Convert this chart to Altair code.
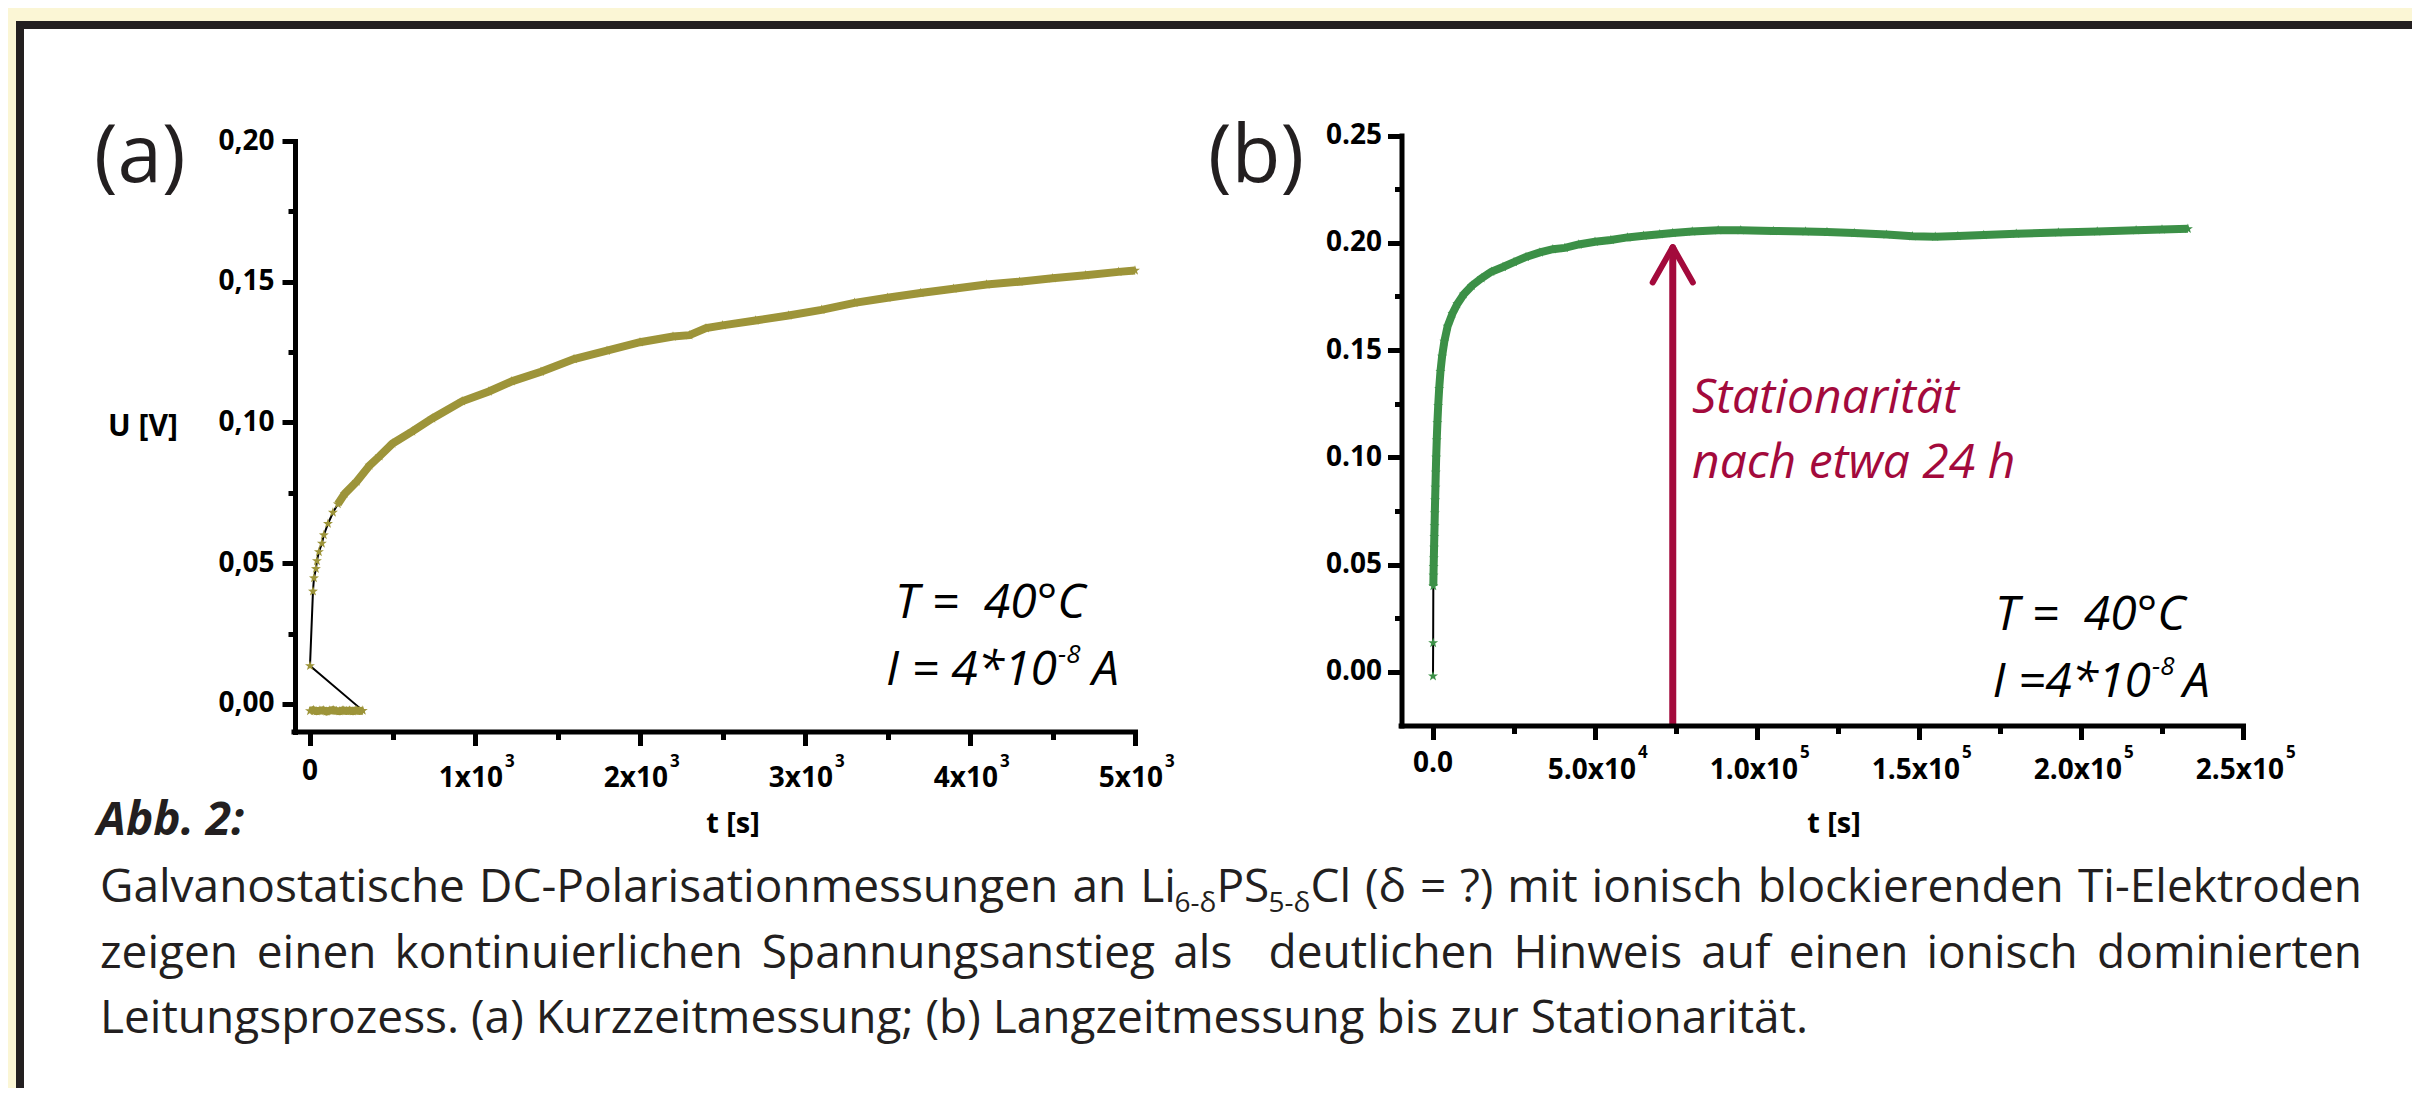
import altair as alt
import pandas as pd

# ---------------- values ----------------
# (a) Kurzzeitmessung: baseline points before the current step, then the rise
a_base_t = [0, 20, 40, 60, 80, 100, 120, 140, 160, 180, 200, 220, 240, 260, 280, 300, 320]
a_base_u = [-0.0025, -0.0022, -0.0026, -0.0024, -0.0023, -0.0027, -0.0024, -0.0022, -0.0025,
            -0.0026, -0.0023, -0.0025, -0.0024, -0.0026, -0.0023, -0.0025, -0.0024]
a_t = [0, 18, 24, 36, 42, 54, 72, 84, 109, 139, 169, 211, 283, 361, 422, 500, 620, 741, 922,
       1084, 1223, 1400, 1600, 1800, 2000, 2200, 2300, 2400, 2500, 2700, 2900, 3100, 3300,
       3500, 3700, 3900, 4100, 4300, 4500, 4700, 4900, 5000]
a_u = [0.0135, 0.040, 0.0447, 0.048, 0.0508, 0.054, 0.057, 0.060, 0.064, 0.068, 0.071, 0.0747,
       0.079, 0.0847, 0.088, 0.0925, 0.0968, 0.1014, 0.1075, 0.111, 0.1146, 0.118, 0.1225,
       0.1255, 0.1285, 0.1305, 0.131, 0.1335, 0.1345, 0.1362, 0.138, 0.140, 0.1425, 0.1443,
       0.146, 0.1475, 0.149, 0.150, 0.1512, 0.1523, 0.1535, 0.154]

# (b) Langzeitmessung
b_t = [0, 50, 100, 150, 200, 260, 330, 400, 480, 560, 650, 750, 860, 980, 1150, 1350, 1600,
       1900, 2300, 2800, 3500, 4500, 6000, 7500, 9500, 12000, 15000, 18000, 21600, 25000,
       28700, 33000, 37000, 40700, 45000, 50000, 54900, 60000, 65000, 70000, 74000, 80000,
       88000, 95000, 105000, 115000, 121600, 130000, 140000, 148000, 155000, 162000, 170000,
       180000, 193000, 205000, 217000, 225000, 233000]
b_u = [-0.002, 0.0135, 0.040, 0.045, 0.049, 0.053, 0.058, 0.063, 0.068, 0.074, 0.080, 0.086,
       0.093, 0.100, 0.108, 0.116, 0.124, 0.132, 0.140, 0.147, 0.154, 0.161, 0.167, 0.1715,
       0.176, 0.180, 0.1835, 0.1865, 0.1887, 0.191, 0.1934, 0.1955, 0.197, 0.1976, 0.1992,
       0.2005, 0.2013, 0.2025, 0.2033, 0.2040, 0.2046, 0.2052, 0.2058, 0.2058, 0.2055,
       0.2052, 0.2050, 0.2045, 0.2038, 0.2030, 0.2028, 0.2032, 0.2036, 0.2042, 0.2048,
       0.2053, 0.2058, 0.2062, 0.2065]

# tick labels
xa_ticks = [0, 1000, 2000, 3000, 4000, 5000]
xa_mant = ["0", "1x10", "2x10", "3x10", "4x10", "5x10"]
xa_exp = ["", "3", "3", "3", "3", "3"]
xb_ticks = [0, 50000, 100000, 150000, 200000, 250000]
xb_mant = ["0.0", "5.0x10", "1.0x10", "1.5x10", "2.0x10", "2.5x10"]
xb_exp = ["", "4", "5", "5", "5", "5"]
ya_ticks = [0, 0.025, 0.05, 0.075, 0.1, 0.125, 0.15, 0.175, 0.2]
yb_ticks = [0, 0.025, 0.05, 0.075, 0.1, 0.125, 0.15, 0.175, 0.2, 0.225, 0.25]
xa_tick_vals = [0, 500, 1000, 1500, 2000, 2500, 3000, 3500, 4000, 4500, 5000]
xb_tick_vals = [0, 25000, 50000, 75000, 100000, 125000, 150000, 175000, 200000, 225000, 250000]

# annotation arrow in (b)
arrow_t = [74000]
arrow_from = [-0.025]
arrow_tip = [0.198]
head_t = [67800, 80200]
head_u = [0.1815, 0.1815]

# caption (words; "_" marks a subscript piece)
cap_line1 = [["Galvanostatische"], ["DC-Polarisationmessungen"], ["an"],
             ["Li", "_6-δ", "PS", "_5-δ", "Cl"], ["(δ"], ["="], ["?)"], ["mit"], ["ionisch"],
             ["blockierenden"], ["Ti-Elektroden"]]
cap_line2 = [["zeigen"], ["einen"], ["kontinuierlichen"], ["Spannungsanstieg"], ["als"],
             ["deutlichen"], ["Hinweis"], ["auf"], ["einen"], ["ionisch"], ["dominierten"]]
cap_line2_gapweights = [1, 1, 1, 1, 2, 1, 1, 1, 1, 1]
cap_line3 = "Leitungsprozess. (a) Kurzzeitmessung;  (b) Langzeitmessung bis zur Stationarität."

# ---------------- style / layout ----------------
W, H = 2404, 1080


def px(v):
    return v - 8  # page pixel -> chart pixel


FONT = "Open Sans"
INK = "#231F20"
OLIVE = "#9D9439"
GREEN = "#3C9047"
CRIMSON = "#A30A3C"
CREAM = "#FBF6D5"
STAR = ("M0,-1L0.235,-0.324L0.951,-0.309L0.38,0.124L0.588,0.809L0,0.4L-0.588,0.809"
        "L-0.38,0.124L-0.951,-0.309L-0.235,-0.324Z")

# approximate Open Sans advance widths (em) used to justify the caption lines
ADV = {' ': .26, 'a': .556, 'b': .613, 'c': .495, 'd': .613, 'e': .561, 'f': .339, 'g': .548,
       'h': .614, 'i': .253, 'k': .525, 'l': .253, 'm': .93, 'n': .614, 'o': .604, 'p': .613,
       'r': .408, 's': .477, 't': .353, 'u': .614, 'v': .501, 'w': .778, 'z': .478, 'ä': .556,
       'A': .633, 'C': .633, 'D': .722, 'E': .556, 'G': .719, 'H': .751, 'I': .279, 'K': .59,
       'L': .496, 'P': .596, 'S': .539, 'T': .54, '-': .322, '.': .267, ';': .267, ':': .267,
       '(': .296, ')': .296, '=': .571, '?': .429, 'δ': .6}


def adv(s):
    return sum(ADV.get(c, .571) for c in s)


dummy = pd.DataFrame({"k": [0]})


def txt(s, x, y, size, weight="normal", style="normal", color=INK, align="left"):
    return alt.Chart(dummy).mark_text(
        text=s, font=FONT, fontSize=size, fontWeight=weight, fontStyle=style,
        color=color, align=align, baseline="alphabetic"
    ).encode(x=alt.value(px(x)), y=alt.value(px(y)))


def justified(words, x0, x1, y, size, weights=None, sub_scale=0.6, sub_dy=10):
    sub_size = round(size * sub_scale)

    def piece_w(p):
        return adv(p[1:]) * sub_size if p.startswith("_") else adv(p) * size

    widths = [sum(piece_w(p) for p in w) for w in words]
    if weights is None:
        weights = [1] * (len(words) - 1)
    gap = (x1 - x0 - sum(widths)) / sum(weights)
    out = []
    x = x0
    for i, w in enumerate(words):
        if i == len(words) - 1 and len(w) == 1:
            out.append(txt(w[0], x1, y, size, align="right"))
            break
        xp = x
        for p in w:
            if p.startswith("_"):
                out.append(txt(p[1:], xp, y + sub_dy, sub_size))
            else:
                out.append(txt(p, xp, y, size))
            xp += piece_w(p)
        if i < len(words) - 1:
            x += widths[i] + gap * weights[i]
    return out


def axis_common(**kw):
    base = dict(title=None, grid=False, domainColor="black", domainWidth=5, domainCap="square",
                tickColor="black", tickWidth=5, labelOverlap=False, labelFlush=False, zindex=2)
    base.update(kw)
    return alt.Axis(**base)


# ---------------- scales & axes ----------------
sc_xa = alt.Scale(domain=[-100, 5000], range=[px(293.5), px(1135)], nice=False, zero=False)
sc_ya = alt.Scale(domain=[-0.01, 0.2], range=[px(732), px(141)], nice=False, zero=False)
sc_xb = alt.Scale(domain=[-10000, 250000], range=[px(1400.6), px(2243)], nice=False, zero=False)
sc_yb = alt.Scale(domain=[-0.025, 0.25], range=[px(725.5), px(135.5)], nice=False, zero=False)

major_y = "round(datum.value*1000) % 50 === 0"
ax_ya = axis_common(
    orient="left", offset=-px(295), values=ya_ticks,
    tickSize={"condition": {"test": major_y, "value": 13}, "value": 7},
    labelExpr=f"{major_y} ? replace(format(datum.value, '.2f'), '.', ',') : ''",
    labelFont=FONT, labelFontSize=28, labelFontWeight="bold", labelColor="black", labelPadding=8)
ax_xa = axis_common(
    orient="bottom", offset=px(731.5) - H, values=xa_tick_vals, labels=False,
    tickSize={"condition": {"test": "datum.value % 1000 === 0", "value": 14}, "value": 8})
ax_yb = axis_common(
    orient="left", offset=-px(1401.5), values=yb_ticks,
    tickSize={"condition": {"test": major_y, "value": 14}, "value": 7},
    labelExpr=f"{major_y} ? format(datum.value, '.2f') : ''",
    labelFont=FONT, labelFontSize=28, labelFontWeight="bold", labelColor="black", labelPadding=6)
ax_xb = axis_common(
    orient="bottom", offset=px(725.5) - H, values=xb_tick_vals, labels=False,
    tickSize={"condition": {"test": "datum.value % 50000 === 0", "value": 14}, "value": 8})

XA = alt.X("t:Q", scale=sc_xa, axis=ax_xa)
YA = alt.Y("U:Q", scale=sc_ya, axis=ax_ya)
XB = alt.X("t:Q", scale=sc_xb, axis=ax_xb)
YB = alt.Y("U:Q", scale=sc_yb, axis=ax_yb)

# ---------------- panel (a) ----------------
dfa = pd.DataFrame({
    "t": a_base_t + a_t,
    "U": a_base_u + a_u,
    "seg": ["base"] * len(a_base_t) + ["rise"] * len(a_t),
})
dfa["i"] = range(len(dfa))

a_black = alt.Chart(dfa).mark_line(color="black", strokeWidth=2).encode(x=XA, y=YA, order="i:Q")
a_thick = alt.Chart(dfa).transform_filter("datum.seg == 'base' || datum.U >= 0.07").mark_line(
    color=OLIVE, strokeWidth=8).encode(x=XA, y=YA, detail="seg:N", order="i:Q")
a_stars = alt.Chart(dfa).mark_point(shape=STAR, filled=True, size=110, color=OLIVE, opacity=1).encode(
    x=XA, y=YA)

dla = pd.DataFrame({"t": xa_ticks, "mant": xa_mant, "exp": xa_exp})
a_lab0 = alt.Chart(dla).transform_filter("datum.exp == ''").mark_text(
    align="center", baseline="alphabetic", font=FONT, fontWeight="bold", fontSize=28, color="black"
).encode(x=XA, y=alt.value(px(780)), text="mant:N")
a_lab = alt.Chart(dla).transform_filter("datum.exp != ''").mark_text(
    align="right", dx=28, baseline="alphabetic", font=FONT, fontWeight="bold", fontSize=28, color="black"
).encode(x=XA, y=alt.value(px(787)), text="mant:N")
a_exp = alt.Chart(dla).transform_filter("datum.exp != ''").mark_text(
    align="left", dx=30, baseline="alphabetic", font=FONT, fontWeight="bold", fontSize=17, color="black"
).encode(x=XA, y=alt.value(px(767)), text="exp:N")

panel_a = alt.layer(a_black, a_thick, a_stars, a_lab0, a_lab, a_exp)

# ---------------- panel (b) ----------------
dfb = pd.DataFrame({"t": b_t, "U": b_u})
dfb["i"] = range(len(dfb))

b_black = alt.Chart(dfb).mark_line(color="black", strokeWidth=2).encode(x=XB, y=YB, order="i:Q")
b_thick = alt.Chart(dfb).transform_filter("datum.U >= 0.04").mark_line(
    color=GREEN, strokeWidth=8).encode(x=XB, y=YB, order="i:Q")
b_stars = alt.Chart(dfb).mark_point(shape=STAR, filled=True, size=110, color=GREEN, opacity=1).encode(
    x=XB, y=YB)

shaft = pd.DataFrame({"t": arrow_t, "U": arrow_from, "U2": arrow_tip})
head = pd.DataFrame({"t": arrow_t * 2, "U": arrow_tip * 2, "t2": head_t, "U2": head_u})
b_shaft = alt.Chart(shaft).mark_rule(color=CRIMSON, strokeWidth=7).encode(x=XB, y=YB, y2="U2:Q")
b_head = alt.Chart(head).mark_rule(color=CRIMSON, strokeWidth=6, strokeCap="round").encode(
    x=XB, y=YB, x2="t2:Q", y2="U2:Q")

dlb = pd.DataFrame({"t": xb_ticks, "mant": xb_mant, "exp": xb_exp})
b_lab0 = alt.Chart(dlb).transform_filter("datum.exp == ''").mark_text(
    align="center", baseline="alphabetic", font=FONT, fontWeight="bold", fontSize=28, color="black"
).encode(x=XB, y=alt.value(px(772)), text="mant:N")
b_lab = alt.Chart(dlb).transform_filter("datum.exp != ''").mark_text(
    align="right", dx=41, baseline="alphabetic", font=FONT, fontWeight="bold", fontSize=28, color="black"
).encode(x=XB, y=alt.value(px(779)), text="mant:N")
b_exp = alt.Chart(dlb).transform_filter("datum.exp != ''").mark_text(
    align="left", dx=43, baseline="alphabetic", font=FONT, fontWeight="bold", fontSize=17, color="black"
).encode(x=XB, y=alt.value(px(758)), text="exp:N")

panel_b = alt.layer(b_black, b_thick, b_stars, b_shaft, b_head, b_lab0, b_lab, b_exp)

# ---------------- frame ----------------
border = alt.Chart(dummy).mark_rect(color=INK).encode(
    x=alt.value(px(16)), x2=alt.value(W), y=alt.value(px(21)), y2=alt.value(H))
inner = alt.Chart(dummy).mark_rect(color="white").encode(
    x=alt.value(px(24)), x2=alt.value(W), y=alt.value(px(29)), y2=alt.value(H))

NB = "\u00a0"
T_TEXT = f"T{NB}={NB}{NB}40°C"
texts = [
    txt("(a)", 94, 182, 80),
    txt("(b)", 1208, 182, 80),
    txt("U [V]", 108, 436, 30, weight="bold", color="black"),
    txt("t [s]", 733, 833, 29, weight="bold", color="black", align="center"),
    txt("t [s]", 1834, 833, 29, weight="bold", color="black", align="center"),
    txt(T_TEXT, 895, 618, 48, style="italic", color="black"),
    txt("I = 4*10", 1057, 685, 48, style="italic", color="black", align="right"),
    txt("-8", 1058, 663, 26, style="italic", color="black"),
    txt("A", 1092, 685, 48, style="italic", color="black"),
    txt(T_TEXT, 1995, 630, 48, style="italic", color="black"),
    txt("I =4*10", 2151, 697, 48, style="italic", color="black", align="right"),
    txt("-8", 2152, 675, 26, style="italic", color="black"),
    txt("A", 2183, 697, 48, style="italic", color="black"),
    txt("Stationarität", 1692, 413, 48, style="italic", color=CRIMSON),
    txt("nach etwa 24 h", 1692, 478, 48, style="italic", color=CRIMSON),
    txt("Abb. 2:", 97, 835, 46, weight="bold", style="italic"),
    txt(cap_line3, 100, 1033, 46),
]
texts += justified(cap_line1, 100, 2362, 902, 46)
texts += justified(cap_line2, 100, 2362, 968, 46, weights=cap_line2_gapweights)

chart = alt.layer(border, inner, panel_a, panel_b, *texts).resolve_scale(
    x="independent", y="independent"
).properties(
    width=W, height=H, background=CREAM, padding=0,
    autosize=alt.AutoSizeParams(type="none"),
).configure_view(stroke=None)

chart.save("out.html", embed_options={"renderer": "svg", "actions": False})
